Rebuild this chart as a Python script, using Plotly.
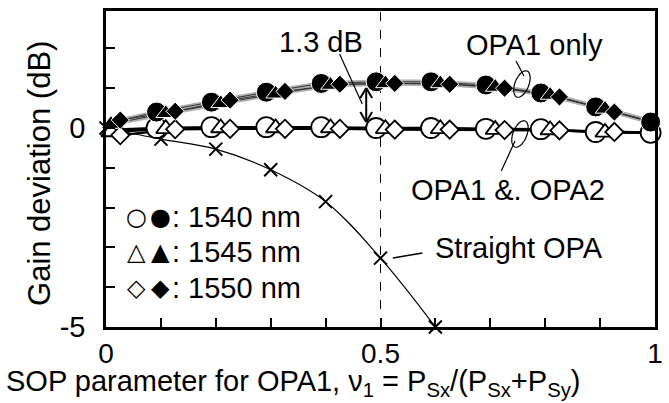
import math
import plotly.graph_objects as go

# ---------------- data ----------------
sop = [0.0, 0.1, 0.2, 0.3, 0.4, 0.5, 0.6, 0.7, 0.8, 0.9, 1.0]

# OPA1 only (filled markers)
opa1_1540 = [0.08, 0.40, 0.65, 0.90, 1.12, 1.16, 1.16, 1.08, 0.88, 0.53, 0.15]
opa1_1545 = [0.10, 0.37, 0.62, 0.86, 1.08, 1.12, 1.12, 1.03, 0.83, 0.48, 0.10]
opa1_1550 = [0.20, 0.42, 0.70, 0.92, 1.10, 1.12, 1.10, 1.00, 0.78, 0.40, 0.05]

# OPA1 & OPA2 (open markers)
both_1540 = [-0.05, 0.00, 0.02, 0.02, 0.02, 0.00, 0.00, -0.02, -0.03, -0.10, -0.12]
both_1545 = [-0.10, -0.02, 0.00, 0.00, 0.00, -0.02, -0.02, -0.04, -0.05, -0.11, -0.13]
both_1550 = [-0.18, -0.03, -0.02, -0.02, -0.02, -0.04, -0.04, -0.05, -0.06, -0.10, -0.13]

# Straight OPA
straight_x = [0.0, 0.1, 0.2, 0.3, 0.4, 0.5, 0.6]
straight_y = [0.0, -0.28, -0.53, -1.05, -1.85, -3.27, -5.0]

x_ticks = [0.0, 0.1, 0.2, 0.3, 0.4, 0.5, 0.6, 0.7, 0.8, 0.9, 1.0]
x_ticktext = ["0", "", "", "", "", "0.5", "", "", "", "", "1"]
y_ticks = [-5, -4, -3, -2, -1, 0, 1, 2]
y_ticktext = ["-5", "", "", "", "", "0", "", ""]

legend_rows = [("○", "●", "1540 nm"), ("△", "▲", "1545 nm"), ("◇", "◆", "1550 nm")]

# ---------------- style ----------------
FONT = "Liberation Sans, Arial, DejaVu Sans, sans-serif"
SYMFONT = "DejaVu Sans, sans-serif"
W, H = 669, 403
ML, MR, MT, MB = 106, 6, 11, 76
PW, PH = W - ML - MR, H - MT - MB
YR = [-5, 2.94]
SHIFT = {"1540": -0.008, "1545": 0.009, "1550": 0.026}


def px2paper(px, py):
    return (px - ML) / PW, (H - MB - py) / PH


fig = go.Figure()

series = [("1540", opa1_1540, both_1540, "circle", 20),
          ("1545", opa1_1545, both_1545, "triangle-up", 17),
          ("1550", opa1_1550, both_1550, "diamond", 14)]

# line layers
for key, up, low, sym, sz in series:
    xs = [v + SHIFT[key] for v in sop]
    fig.add_trace(go.Scatter(x=xs, y=up, mode="lines",
                             line=dict(color="#b0b0b0", width=4.5),
                             hoverinfo="skip", showlegend=False))
for key, up, low, sym, sz in series:
    xs = [v + SHIFT[key] for v in sop]
    fig.add_trace(go.Scatter(x=xs, y=up, mode="lines",
                             line=dict(color="#303030", width=1),
                             hoverinfo="skip", showlegend=False))
    fig.add_trace(go.Scatter(x=xs, y=low, mode="lines",
                             line=dict(color="black", width=2.4),
                             hoverinfo="skip", showlegend=False))

# straight OPA
fig.add_trace(go.Scatter(x=straight_x, y=straight_y, mode="lines+markers",
                         line=dict(color="black", width=1.2, shape="spline"),
                         marker=dict(symbol="x-thin", size=13,
                                     line=dict(color="black", width=2)),
                         cliponaxis=False, showlegend=False))

# markers
for key, up, low, sym, sz in series:
    xs = [v + SHIFT[key] for v in sop]
    fig.add_trace(go.Scatter(x=xs, y=low, mode="markers",
                             marker=dict(symbol=sym, size=sz, color="white",
                                         line=dict(color="black", width=1.8)),
                             cliponaxis=False, showlegend=False))
for key, up, low, sym, sz in series:
    xs = [v + SHIFT[key] for v in sop]
    fig.add_trace(go.Scatter(x=xs, y=up, mode="markers",
                             marker=dict(symbol=sym, size=sz, color="black",
                                         line=dict(color="white", width=1)),
                             cliponaxis=False, showlegend=False))

shapes = []
# vertical dashed line at 0.5
shapes.append(dict(type="line", xref="x", yref="paper", x0=0.5, x1=0.5, y0=0, y1=1,
                   line=dict(color="black", width=1, dash="dash"), layer="below"))


def ellipse_path(cx, cy, a, b, phi_deg):
    phi = math.radians(phi_deg)
    d = (math.sin(phi), -math.cos(phi))
    m = (math.cos(phi), math.sin(phi))
    pts = []
    for i in range(41):
        t = 2 * math.pi * i / 40
        px = cx + b * math.cos(t) * d[0] + a * math.sin(t) * m[0]
        py = cy + b * math.cos(t) * d[1] + a * math.sin(t) * m[1]
        pts.append(px2paper(px, py))
    return "M" + " L".join(f"{x:.4f},{y:.4f}" for x, y in pts) + " Z"


for cx, cy in [(528, 84), (526, 134)]:
    shapes.append(dict(type="path", xref="paper", yref="paper",
                       path=ellipse_path(cx, cy, 7, 14, 22),
                       line=dict(color="black", width=1.2)))


def seg(p0, p1, w=1.2):
    x0, y0 = px2paper(*p0)
    x1, y1 = px2paper(*p1)
    return dict(type="line", xref="paper", yref="paper", x0=x0, y0=y0, x1=x1, y1=y1,
                line=dict(color="black", width=w))


shapes.append(seg((522, 61), (530, 76)))
shapes.append(seg((507, 171), (521, 141)))
shapes.append(seg((343, 54), (366, 104)))
shapes.append(seg((397, 258), (427, 253), 1.5))

# double arrow 1.3 dB
ax_x = 370
shapes.append(seg((ax_x, 88), (ax_x, 122), 2))
for tip, sgn in [(88, 1), (122, -1)]:
    shapes.append(seg((ax_x, tip), (ax_x - 6, tip + sgn * 10), 2))
    shapes.append(seg((ax_x, tip), (ax_x + 6, tip + sgn * 10), 2))

annotations = []


def text(px, py, s, size=29, xanchor="center", yanchor="middle", angle=0, family=FONT):
    x, y = px2paper(px, py)
    annotations.append(dict(x=x, y=y, xref="paper", yref="paper", text=s,
                            showarrow=False, xanchor=xanchor, yanchor=yanchor,
                            textangle=angle,
                            font=dict(family=family, size=size, color="black")))


text(324, 42, "1.3 dB")
text(541, 45, "OPA1 only")
text(514, 190, "OPA1 &. OPA2")
text(525, 248, "Straight OPA")
for i, (o, f, lab) in enumerate(legend_rows):
    yy = [217, 252, 288][i]
    text(137, yy, o, size=24, family=SYMFONT)
    text(161, yy, f, size=24, family=SYMFONT)
    text(171, yy, ": " + lab, xanchor="left")
text(38, 173, "Gain deviation (dB)", size=31, angle=-90)
text(3, 403, "SOP parameter for OPA1, ν<sub>1</sub> = P<sub>Sx</sub>/(P<sub>Sx</sub>+P<sub>Sy</sub>)",
     size=29, xanchor="left", yanchor="bottom")

fig.update_layout(
    width=W, height=H,
    margin=dict(l=ML, r=MR, t=MT, b=MB, pad=0),
    paper_bgcolor="white", plot_bgcolor="white",
    font=dict(family=FONT, size=28, color="black"),
    shapes=shapes, annotations=annotations,
    showlegend=False,
    xaxis=dict(range=[0, 1], tickvals=x_ticks, ticktext=x_ticktext,
               ticks="inside", ticklen=9, tickwidth=2, tickcolor="black",
               showline=True, linewidth=2.5, linecolor="black", mirror=True,
               showgrid=False, zeroline=False, ticklabelstandoff=0,
               tickfont=dict(family=FONT, size=28)),
    yaxis=dict(range=YR, tickvals=y_ticks, ticktext=y_ticktext,
               ticks="inside", ticklen=9, tickwidth=2, tickcolor="black",
               showline=True, linewidth=2.5, linecolor="black", mirror=True,
               showgrid=False, zeroline=False, ticklabelstandoff=12,
               tickfont=dict(family=FONT, size=29)),
)

fig.write_html("out.html")
